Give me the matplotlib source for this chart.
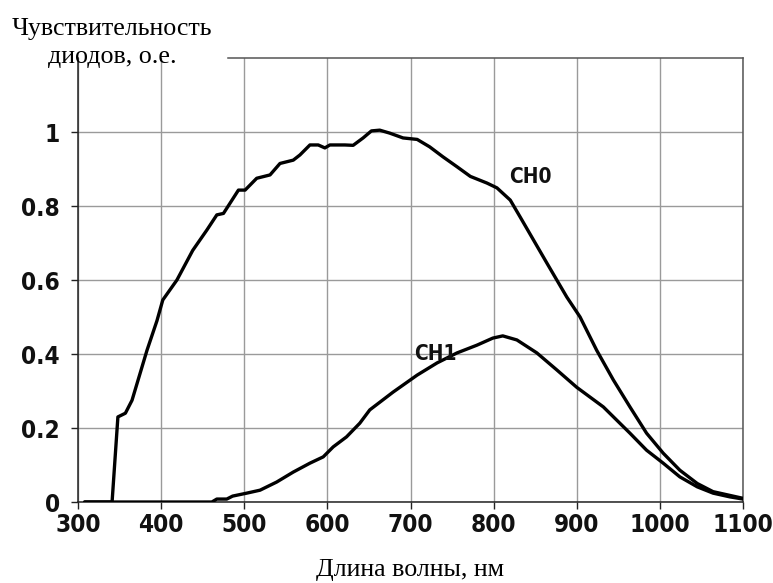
import matplotlib
matplotlib.use("Agg")
import matplotlib.pyplot as plt
import numpy as np

# spectral sensitivity of the two photodiode channels
ch0_nm = [308, 341, 348, 357, 365, 377, 383, 395, 402, 419, 438, 455, 467, 475,
          483, 493, 501, 515, 531, 543, 559, 567, 579, 589, 597, 603, 621, 631,
          643, 653, 663, 675, 691, 708, 723, 739, 756, 772, 792, 804, 820, 832,
          848, 864, 888, 904, 924, 944, 964, 984, 1004, 1024, 1045, 1064, 1084, 1100]
ch0_val = [0, 0, 0.23, 0.24, 0.275, 0.365, 0.41, 0.49, 0.546, 0.60, 0.68, 0.735,
           0.776, 0.78, 0.808, 0.843, 0.843, 0.875, 0.884, 0.915, 0.924, 0.938,
           0.965, 0.965, 0.957, 0.965, 0.965, 0.964, 0.984, 1.003, 1.005, 0.997,
           0.984, 0.98, 0.96, 0.933, 0.906, 0.88, 0.862, 0.849, 0.816, 0.77,
           0.708, 0.646, 0.554, 0.50, 0.41, 0.33, 0.257, 0.186, 0.132, 0.086,
           0.05, 0.028, 0.018, 0.01]

ch1_nm = [308, 461, 467, 479, 486, 503, 519, 539, 559, 579, 595, 607, 623, 639,
          651, 679, 708, 732, 756, 780, 799, 811, 828, 852, 876, 900, 932, 964,
          984, 1004, 1024, 1045, 1064, 1084, 1100]
ch1_val = [0, 0, 0.008, 0.008, 0.016, 0.024, 0.032, 0.054, 0.081, 0.105, 0.122,
           0.149, 0.176, 0.213, 0.249, 0.297, 0.343, 0.376, 0.403, 0.424, 0.443,
           0.449, 0.438, 0.403, 0.357, 0.31, 0.257, 0.186, 0.14, 0.105, 0.068,
           0.041, 0.024, 0.014, 0.008]

x_ticks = [300, 400, 500, 600, 700, 800, 900, 1000, 1100]
y_ticks = [0, 0.2, 0.4, 0.6, 0.8, 1.0]
y_ticklabels = ["0", "0.2", "0.4", "0.6", "0.8", "1"]

serif = ["Liberation Serif", "DejaVu Serif"]
tick_font = dict(family="DejaVu Sans", fontweight="bold", fontstretch="condensed")

fig = plt.figure(figsize=(7.73, 5.83), dpi=100)
ax = fig.add_axes([0.1009, 0.1389, 0.8603, 0.7616])

for nm, val in [(ch0_nm, ch0_val), (ch1_nm, ch1_val)]:
    ax.plot(nm, val, color="black", lw=2.4, solid_capstyle="round",
            solid_joinstyle="round", zorder=3)

ax.set_xlim(300, 1100)
ax.set_ylim(0, 1.2)
ax.set_xticks(x_ticks)
ax.set_yticks(y_ticks)
ax.set_yticklabels(y_ticklabels)
ax.grid(True, color="#9a9a9a", lw=1.0)
ax.set_axisbelow(True)

for side in ["left", "bottom", "right", "top"]:
    ax.spines[side].set_color("#222222")
    ax.spines[side].set_linewidth(1.1)
ax.spines["right"].set_color("#555555")
ax.spines["top"].set_bounds(480, 1100)
ax.spines["top"].set_color("#555555")

ax.tick_params(axis="both", direction="out", length=5, width=1.0, color="#222222")
ax.tick_params(axis="x", pad=3)
ax.tick_params(axis="y", pad=8)
for lab in ax.get_xticklabels() + ax.get_yticklabels():
    lab.set(fontsize=17.5, color="#111111", **tick_font)

ax.text(844, 0.878, "CH0", fontsize=15, ha="center", va="center",
        color="#111111", **tick_font)
ax.text(730, 0.40, "CH1", fontsize=15, ha="center", va="center",
        color="#111111", **tick_font)

fig.text(112 / 773, 1 - 18 / 583, "Чувствительность\nдиодов, о.е.", family=serif,
         fontsize=18.7, ha="center", va="top", multialignment="center",
         linespacing=1.36)
fig.text(410 / 773, 1 - 576 / 583, "Длина волны, нм", family=serif,
         fontsize=18.7, ha="center", va="baseline")

fig.savefig("out.png", dpi=100)
plt.close(fig)
